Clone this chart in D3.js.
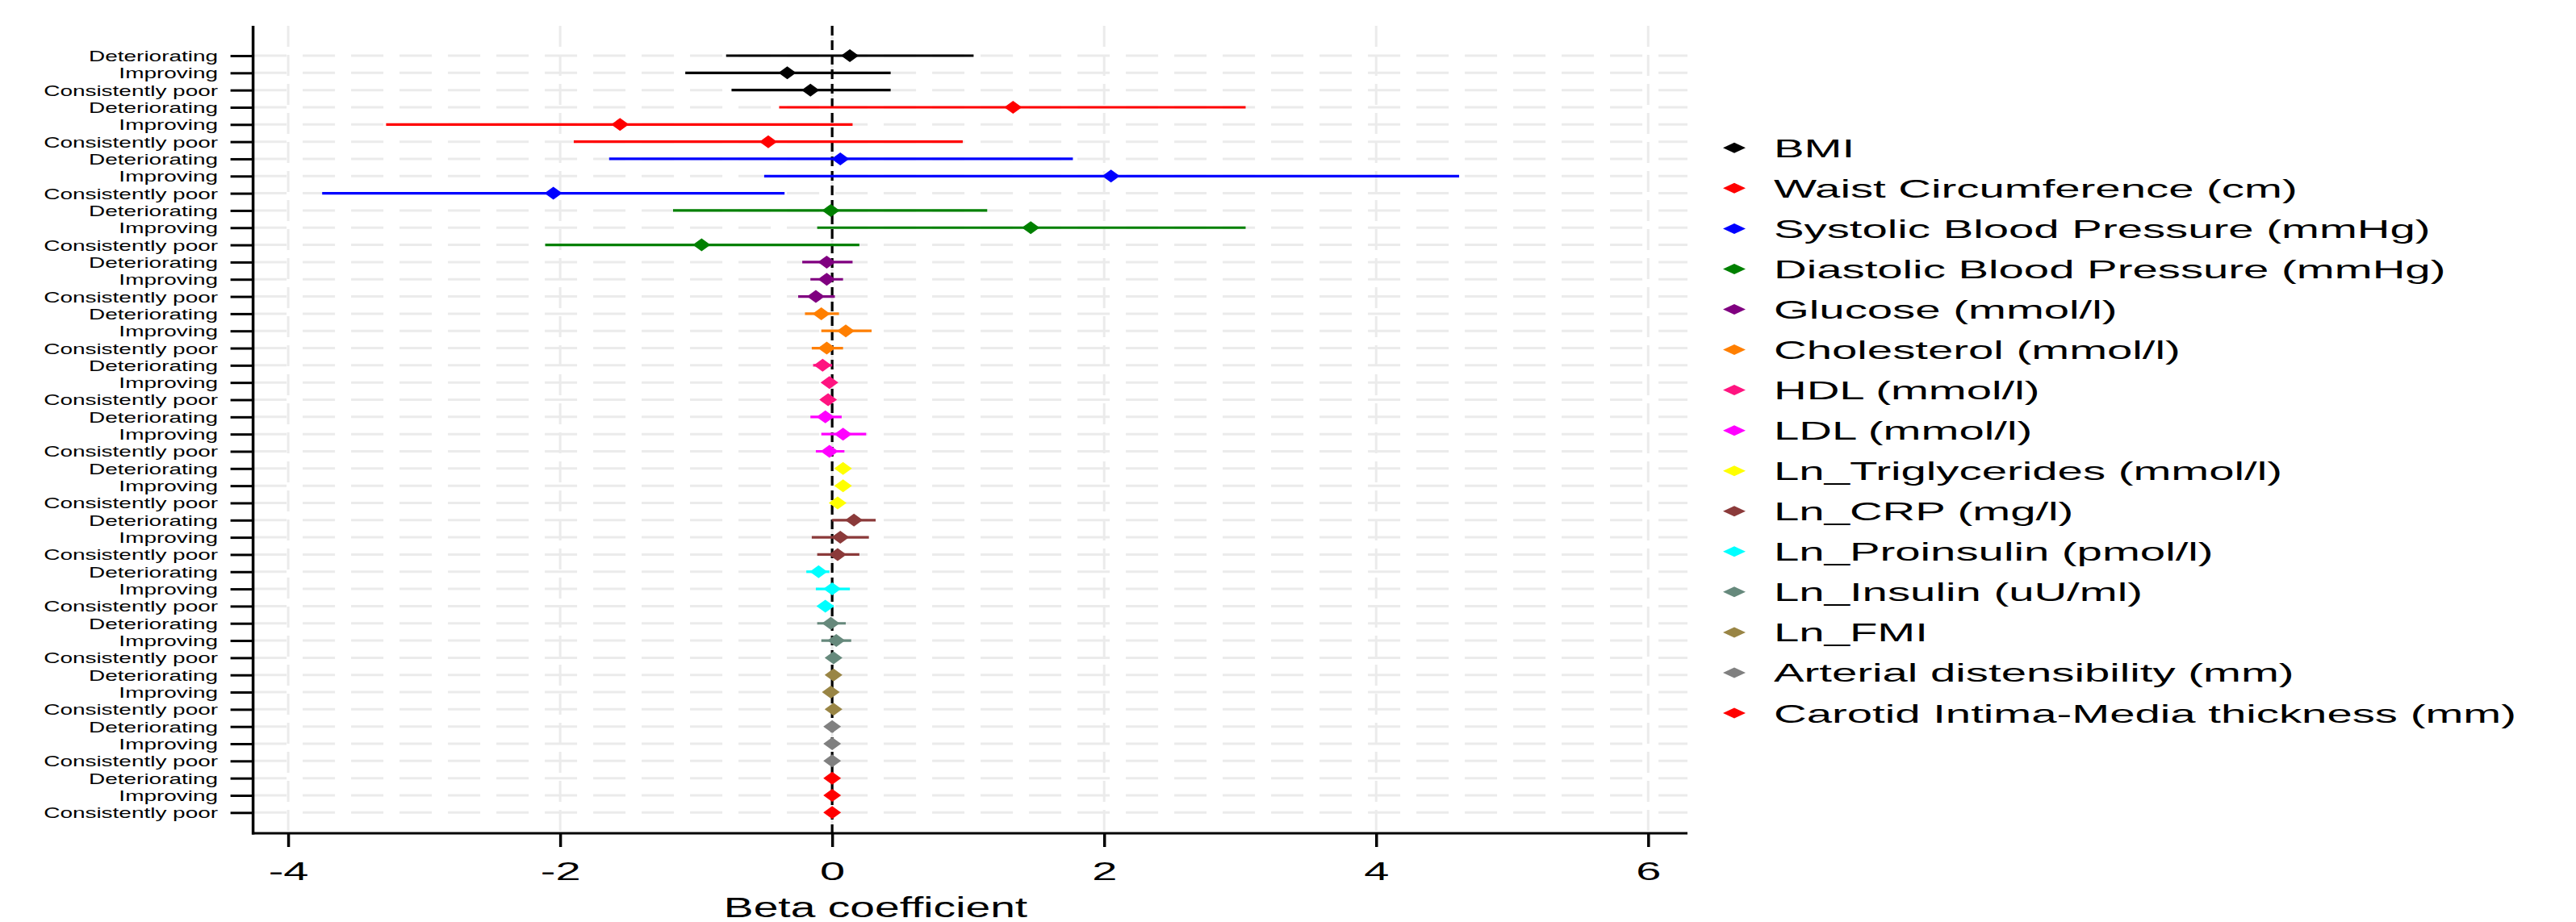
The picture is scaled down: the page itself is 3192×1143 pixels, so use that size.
<!DOCTYPE html>
<html>
<head>
<meta charset="utf-8">
<script src="https://cdn.jsdelivr.net/npm/d3@7"></script>
<style>
  html, body { margin: 0; padding: 0; background: #fff; }
  svg { display: block; }
  text { font-family: "Liberation Sans", Arial, Helvetica, sans-serif; fill: #000; }
</style>
</head>
<body>
<svg id="chart" width="3192" height="1143"></svg>
<script>
// Cardiometabolic outcomes, in plotting order (top to bottom)
const outcomes = [
  "BMI",
  "Waist Circumference (cm)",
  "Systolic Blood Pressure (mmHg)",
  "Diastolic Blood Pressure (mmHg)",
  "Glucose (mmol/l)",
  "Cholesterol (mmol/l)",
  "HDL (mmol/l)",
  "LDL (mmol/l)",
  "Ln_Triglycerides (mmol/l)",
  "Ln_CRP (mg/l)",
  "Ln_Proinsulin (pmol/l)",
  "Ln_Insulin (uU/ml)",
  "Ln_FMI",
  "Arterial distensibility (mm)",
  "Carotid Intima-Media thickness (mm)"
];

// Trajectory groups compared within each outcome
const statuses = ["Deteriorating", "Improving", "Consistently poor"];

const colors = [
  "#000000", "#ff0000", "#0000ff", "#008000", "#800080",
  "#ff7f00", "#ff1480", "#ff00ff", "#ffff00", "#8b3a3a",
  "#00ffff", "#66897c", "#998545", "#808080", "#ff0000"
];

// Beta coefficients: one row per outcome, columns follow `statuses`
const beta = [
  [0.13, -0.33, -0.16],
  [1.33, -1.56, -0.47],
  [0.06, 2.05, -2.05],
  [-0.01, 1.46, -0.96],
  [-0.04, -0.04, -0.12],
  [-0.08, 0.10, -0.04],
  [-0.07, -0.02, -0.03],
  [-0.05, 0.08, -0.02],
  [0.08, 0.08, 0.04],
  [0.16, 0.06, 0.04],
  [-0.10, 0.00, -0.05],
  [-0.01, 0.03, 0.01],
  [0.01, -0.01, 0.01],
  [0.00, 0.00, 0.00],
  [0.00, 0.00, 0.00]
];

// Lower 95% confidence limits
const lower = [
  [-0.78, -1.08, -0.74],
  [-0.39, -3.28, -1.90],
  [-1.64, -0.50, -3.75],
  [-1.17, -0.11, -2.11],
  [-0.22, -0.16, -0.25],
  [-0.20, -0.08, -0.15],
  [-0.14, -0.05, -0.06],
  [-0.16, -0.08, -0.12],
  [0.05, 0.05, 0.01],
  [0.00, -0.15, -0.11],
  [-0.19, -0.12, -0.10],
  [-0.11, -0.08, -0.03],
  [-0.01, -0.03, -0.01],
  [-0.01, -0.01, -0.01],
  [-0.01, -0.01, -0.01]
];

// Upper 95% confidence limits
const upper = [
  [1.04, 0.43, 0.43],
  [3.04, 0.15, 0.96],
  [1.77, 4.61, -0.35],
  [1.14, 3.04, 0.20],
  [0.15, 0.08, 0.02],
  [0.05, 0.29, 0.08],
  [0.00, 0.02, 0.01],
  [0.07, 0.25, 0.09],
  [0.11, 0.11, 0.07],
  [0.32, 0.27, 0.20],
  [-0.02, 0.13, 0.01],
  [0.10, 0.14, 0.05],
  [0.03, 0.01, 0.03],
  [0.01, 0.01, 0.01],
  [0.01, 0.01, 0.01]
];

const xTicks = [-4, -2, 0, 2, 4, 6];
const xTitle = "Beta coefficient";

// ---- build row records ----
const rows = [];
outcomes.forEach((o, i) => {
  statuses.forEach((s, j) => {
    rows.push({
      key: i + "|" + s,
      outcome: o,
      status: s,
      color: colors[i],
      b: beta[i][j],
      lo: lower[i][j],
      hi: upper[i][j]
    });
  });
});

// ---- layout ----
const plot = { left: 313.6, right: 2091, top: 32, bottom: 1033 };
const firstRowY = 69, lastRowY = 1007.3;

const svg = d3.select("#chart");
svg.append("rect").attr("width", 3192).attr("height", 1143).attr("fill", "#fff");

const x = d3.scaleLinear().domain([-4.258, 6.289]).range([plot.left, plot.right]);
const y = d3.scalePoint().domain(rows.map(r => r.key)).range([firstRowY, lastRowY]);

const gridColor = "#ebebeb";

// horizontal grid (one dashed line per row)
svg.append("g")
  .selectAll("line")
  .data(rows)
  .join("line")
  .attr("x1", plot.left + 1.5).attr("x2", plot.right)
  .attr("y1", d => y(d.key)).attr("y2", d => y(d.key))
  .attr("stroke", gridColor)
  .attr("stroke-width", 3)
  .attr("stroke-dasharray", "40,20");

// vertical grid at x ticks
svg.append("g")
  .selectAll("line")
  .data(xTicks)
  .join("line")
  .attr("x1", d => x(d)).attr("x2", d => x(d))
  .attr("y1", plot.top).attr("y2", plot.bottom)
  .attr("stroke", gridColor)
  .attr("stroke-width", 3)
  .attr("stroke-dasharray", "26,10");

// reference line at zero
svg.append("line")
  .attr("x1", x(0)).attr("x2", x(0))
  .attr("y1", plot.top).attr("y2", plot.bottom)
  .attr("stroke", "#000")
  .attr("stroke-width", 3.2)
  .attr("stroke-dasharray", "12,6");

// confidence intervals
svg.append("g")
  .selectAll("line")
  .data(rows)
  .join("line")
  .attr("x1", d => x(d.lo)).attr("x2", d => x(d.hi))
  .attr("y1", d => y(d.key)).attr("y2", d => y(d.key))
  .attr("stroke", d => d.color)
  .attr("stroke-width", 3.2);

// point estimates (diamonds)
const diamond = (w, h) => `M0,${-h / 2}L${w / 2},0L0,${h / 2}L${-w / 2},0Z`;
svg.append("g")
  .selectAll("path")
  .data(rows)
  .join("path")
  .attr("d", diamond(22, 16))
  .attr("transform", d => `translate(${x(d.b)},${y(d.key)})`)
  .attr("fill", d => d.color);

// ---- axes ----
const yLabelSx = 1.51, yLabelOffset = 43.6;
const yAxis = svg.append("g")
  .attr("transform", `translate(${plot.left},0)`)
  .call(d3.axisLeft(y).tickSize(28).tickPadding(15).tickFormat(k => k.split("|")[1]));
yAxis.select(".domain").remove();
yAxis.selectAll(".tick line").attr("stroke", "#000").attr("stroke-width", 3);
yAxis.selectAll(".tick text")
  .attr("x", -yLabelOffset / yLabelSx)
  .attr("dy", "0.35em")
  .attr("transform", `scale(${yLabelSx},1)`)
  .style("font-size", "18.5px")
  .style("font-family", "'Liberation Sans', Arial, sans-serif")
  .attr("fill", "#000");

svg.append("line")
  .attr("x1", plot.left).attr("x2", plot.left)
  .attr("y1", plot.top).attr("y2", plot.bottom + 1.5)
  .attr("stroke", "#000").attr("stroke-width", 3.5);

const xAxis = svg.append("g")
  .attr("transform", `translate(0,${plot.bottom})`)
  .call(d3.axisBottom(x).tickValues(xTicks).tickSize(17).tickFormat(d3.format("d")));
xAxis.select(".domain").remove();
xAxis.selectAll(".tick line").attr("stroke", "#000").attr("stroke-width", 3.5);
xAxis.selectAll(".tick text")
  .attr("y", 58.5)
  .attr("dy", 0)
  .attr("transform", "scale(1.75,1)")
  .style("font-size", "32px")
  .style("font-family", "'Liberation Sans', Arial, sans-serif")
  .text(d => d < 0 ? "-" + Math.abs(d) : String(d))
  .attr("fill", "#000");

svg.append("line")
  .attr("x1", plot.left - 1.5).attr("x2", plot.right)
  .attr("y1", plot.bottom).attr("y2", plot.bottom)
  .attr("stroke", "#000").attr("stroke-width", 3);

svg.append("text")
  .attr("transform", "translate(1085,1137) scale(1.6,1)")
  .attr("text-anchor", "middle")
  .style("font-size", "34.5px")
  .text(xTitle);

// ---- legend ----
const legend = svg.append("g");
const legendTop = 183.3, legendStep = 50.05;
const legendItems = legend.selectAll("g")
  .data(outcomes.map((o, i) => ({ name: o, color: colors[i], i })))
  .join("g")
  .attr("transform", d => `translate(2149,${legendTop + d.i * legendStep})`);
legendItems.append("path")
  .attr("d", diamond(28, 13))
  .attr("fill", d => d.color);
legendItems.append("text")
  .attr("transform", "translate(49,0) scale(1.76,1)")
  .attr("dy", "0.36em")
  .style("font-size", "32px")
  .text(d => d.name);
</script>
</body>
</html>
